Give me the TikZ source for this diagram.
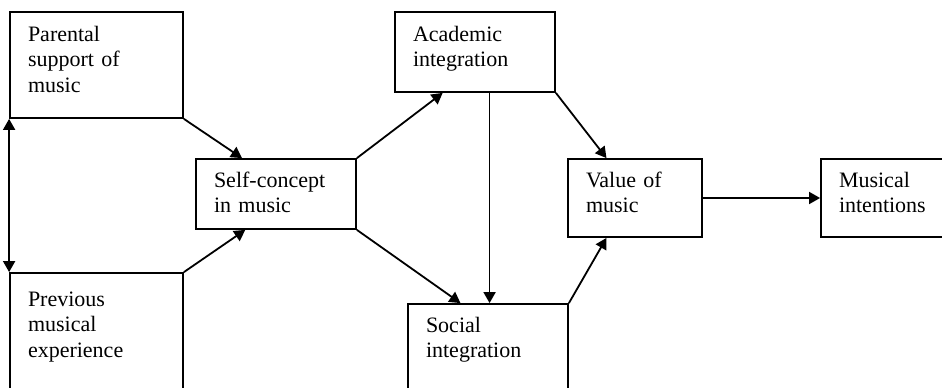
\documentclass[tikz,border=0pt]{standalone}
\usepackage{fontspec}
\setmainfont{Liberation Serif}
\usetikzlibrary{arrows.meta,calc,positioning}
\tikzset{box/.style={rectangle,draw,inner sep=0pt},
  lbl/.style={anchor=base west,align=left,text width=150pt,inner sep=0pt,font=\fontsize{22}{25.5}\selectfont}}

\begin{document}
\begin{tikzpicture}[x=1pt,y=-1pt,line width=1.8pt,>={Triangle[length=11pt,width=12pt]}]
    \clip (0,0) rectangle (942,388);

    \node[box,minimum width=173pt,minimum height=106pt] (par) at (96.5,65) {};
    \node[box,minimum width=173pt,minimum height=124pt] (prev) at (96.5,335) {};
    \node[box,minimum width=160pt,minimum height=70pt] (self) at (276,194) {};
    \node[box,minimum width=160pt,minimum height=80pt] (acad) at (475,52) {};
    \node[box,minimum width=160pt,minimum height=93pt] (soc) at (488,350.5) {};
    \node[box,minimum width=134pt,minimum height=78pt] (val) at (635,198) {};
    \node[box,minimum width=130pt,minimum height=78pt] (mus) at (886,198) {};

    \node[lbl] (par-l) at ($(par.north west)+(18,30)$) {Parental\\support of\\music};
    \node[lbl] (prev-l) at ($(prev.north west)+(18,34)$) {Previous\\musical\\experience};
    \node[lbl] (self-l) at ($(self.north west)+(18,29)$) {Self-concept\\in music};
    \node[lbl] (acad-l) at ($(acad.north west)+(18,30)$) {Academic\\integration};
    \node[lbl] (soc-l) at ($(soc.north west)+(18,29)$) {Social\\integration};
    \node[lbl] (val-l) at ($(val.north west)+(18,29)$) {Value of\\music};
    \node[lbl] (mus-l) at ($(mus.north west)+(18,29)$) {Musical\\intentions};

    \coordinate (m) at ($(acad.south west)!0.59!(acad.south east)$);

    \draw [<->] (par.south west) to [] (prev.north west);
    \draw [->] (par.south east) to [] ($(self.north west)!0.29!(self.north east)$);
    \draw [->] (prev.north east) to [] ($(self.south west)!0.31!(self.south east)$);
    \draw [->] (self.north east) to [] ($(acad.south west)!0.3!(acad.south east)$);
    \draw [->] (self.south east) to [] ($(soc.north west)!0.33!(soc.north east)$);
    \draw [->] (m) to [] (m |- soc.north);
    \draw [->] (acad.south east) to [] ($(val.north west)!0.29!(val.north east)$);
    \draw [->] (soc.north east) to [] ($(val.south west)!0.29!(val.south east)$);
    \draw [->] (val.east) to [] (mus.west);
\end{tikzpicture}
\end{document}
